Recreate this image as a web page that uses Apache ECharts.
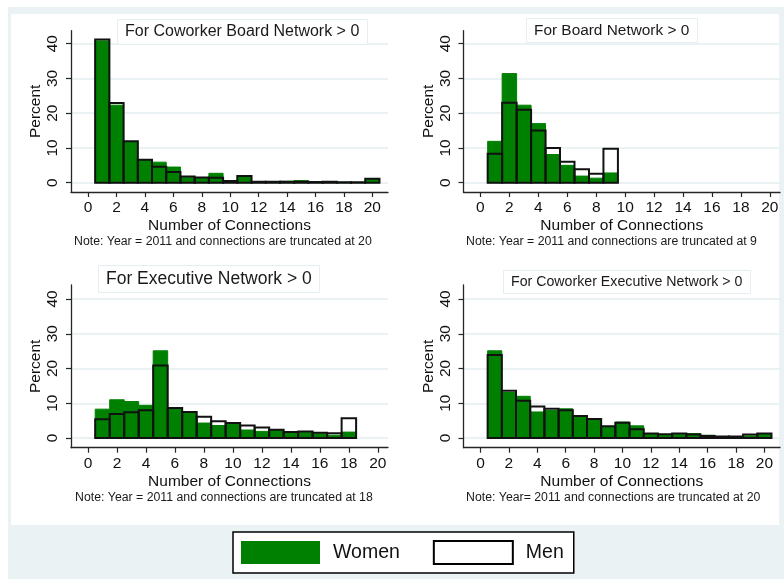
<!DOCTYPE html>
<html>
<head>
<meta charset="utf-8">
<script src="https://cdn.jsdelivr.net/npm/echarts@6/dist/echarts.min.js"></script>
<style>
  html, body { margin: 0; padding: 0; background: #ffffff; }
  #outer { position: absolute; left: 8px; top: 7px; width: 776px; height: 572px; background: #eaf2f3; }
  #inner { position: absolute; left: 11px; top: 14px; width: 768px; height: 511px; background: #ffffff; }
  #chart { position: absolute; left: 0; top: 0; width: 784px; height: 579px; }
</style>
</head>
<body>
<div id="outer"></div>
<div id="inner"></div>
<div id="chart"></div>
<script>
// Number of connections (histogram bins, width 1, centred on integers)
const bins = [1, 2, 3, 4, 5, 6, 7, 8, 9, 10, 11, 12, 13, 14, 15, 16, 17, 18, 19, 20];

// Percent of directors in each bin, 2011
const coworkerBoardWomen = [40.8, 22.3, 11.7, 6.5, 5.9, 4.5, 1.6, 1.5, 2.7, 0.5, 1.7, 0.3, 0.3, 0.4, 0.6, 0.2, 0.2, 0.1, 0.1, 1.0];
const coworkerBoardMen   = [41.2, 22.9, 11.9, 6.6, 4.6, 3.1, 1.8, 1.5, 1.4, 0.5, 1.9, 0.3, 0.3, 0.3, 0.3, 0.2, 0.3, 0.1, 0.1, 1.1];

const boardWomen = [11.9, 31.4, 22.3, 17.0, 8.1, 5.0, 1.9, 1.3, 2.8];
const boardMen   = [8.3, 23.0, 21.0, 15.0, 10.0, 6.0, 3.9, 2.6, 9.8];

const executiveWomen = [8.3, 11.0, 10.5, 9.4, 25.1, 8.4, 7.2, 4.3, 3.6, 4.0, 2.3, 1.9, 2.3, 1.6, 1.6, 1.2, 0.8, 1.7];
const executiveMen   = [5.4, 6.9, 7.4, 8.0, 20.9, 8.6, 7.5, 6.1, 4.8, 4.3, 3.6, 3.0, 2.4, 1.7, 1.9, 1.5, 1.4, 5.7];

const coworkerExecWomen = [25.1, 13.1, 12.0, 7.5, 7.9, 8.4, 6.1, 5.3, 3.2, 4.6, 3.5, 1.0, 1.0, 1.1, 1.3, 0.8, 0.4, 0.4, 0.6, 1.0];
const coworkerExecMen   = [23.9, 13.6, 10.7, 9.1, 8.4, 8.0, 6.3, 5.5, 3.4, 4.4, 2.5, 1.3, 1.1, 1.3, 1.0, 0.6, 0.4, 0.4, 1.0, 1.3];

// Axis tick labels
const xTicks = [0, 2, 4, 6, 8, 10, 12, 14, 16, 18, 20];
const yTicks = [0, 10, 20, 30, 40];

// Panel titles and notes
const panelTitles = [
  'For Coworker Board Network > 0',
  'For Board Network > 0',
  'For Executive Network > 0',
  'For Coworker Executive Network > 0'
];
const panelNotes = [
  'Note: Year = 2011 and connections are truncated at 20',
  'Note: Year = 2011 and connections are truncated at 9',
  'Note: Year = 2011 and connections are truncated at 18',
  'Note: Year= 2011 and connections are truncated at 20'
];
const panelData = [
  [coworkerBoardWomen, coworkerBoardMen],
  [boardWomen, boardMen],
  [executiveWomen, executiveMen],
  [coworkerExecWomen, coworkerExecMen]
];

const FONT = "'Liberation Sans', Arial, Helvetica, sans-serif";
const GREEN = '#008000';
const AXIS = '#262626';

// Layout of the four plot regions
const grids = [
  { left: 71,    top: 30.7, width: 317,   height: 161.3 },
  { left: 463.5, top: 30.7, width: 316.5, height: 161.3 },
  { left: 71,    top: 285,  width: 317,   height: 162.7 },
  { left: 463.5, top: 285,  width: 316.5, height: 162.7 }
];
const xRange = [[-1.2, 21.1], [-1.17, 20.7], [-1.17, 20.7], [-1.2, 21.1]];
const yRange = [[-2.68, 43.74], [-2.68, 43.74], [-2.79, 44.03], [-2.79, 44.03]];

const titleLayout = [
  { left: 117, top: 19,  size: 16 },
  { left: 526, top: 18,  size: 15.4 },
  { left: 98,  top: 265, size: 17.5 },
  { left: 503, top: 270, size: 14.2 }
];
const noteLayout = [
  { left: 74,  top: 236 },
  { left: 466, top: 236 },
  { left: 75,  top: 492 },
  { left: 466, top: 492 }
];

// One histogram bar spanning [x-0.5, x+0.5]
function binRect(params, api) {
  const x = api.value(0);
  const y = api.value(1);
  const p0 = api.coord([x - 0.5, y]);
  const p1 = api.coord([x + 0.5, 0]);
  return {
    type: 'rect',
    shape: { x: p0[0], y: p0[1], width: p1[0] - p0[0], height: p1[1] - p0[1] },
    style: api.style()
  };
}

const xAxes = [], yAxes = [], series = [], titles = [];
grids.forEach((g, i) => {
  xAxes.push({
    gridIndex: i, type: 'value', min: xRange[i][0], max: xRange[i][1],
    axisLine: { show: true, onZero: false, lineStyle: { color: AXIS, width: 1.3 } },
    axisTick: { show: true, length: 5, customValues: xTicks, lineStyle: { color: AXIS, width: 1.2 } },
    axisLabel: { customValues: xTicks, fontSize: 15.5, color: '#111', margin: 8, fontFamily: FONT },
    splitLine: { show: false },
    name: 'Number of Connections', nameLocation: 'middle', nameGap: 26,
    nameTextStyle: { fontSize: 15.5, color: '#111', fontFamily: FONT }
  });
  yAxes.push({
    gridIndex: i, type: 'value', min: yRange[i][0], max: yRange[i][1],
    axisLine: { show: true, onZero: false, lineStyle: { color: AXIS, width: 1.3 } },
    axisTick: { show: true, length: 5, customValues: yTicks, lineStyle: { color: AXIS, width: 1.2 } },
    axisLabel: { customValues: yTicks, rotate: 90, fontSize: 15.5, color: '#111', margin: 10, fontFamily: FONT },
    splitLine: { show: true, lineStyle: { color: '#e5eef1', width: 1.5 } },
    name: 'Percent', nameLocation: 'middle', nameGap: 27, nameRotate: 90,
    nameTextStyle: { fontSize: 15.5, color: '#111', fontFamily: FONT }
  });
  const [women, men] = panelData[i];
  series.push({
    name: 'Women', type: 'custom', xAxisIndex: i, yAxisIndex: i, z: 2,
    renderItem: binRect, clip: true,
    itemStyle: { color: GREEN, borderColor: GREEN, borderWidth: 1 },
    data: women.map((v, k) => [bins[k], v])
  });
  series.push({
    name: 'Men', type: 'custom', xAxisIndex: i, yAxisIndex: i, z: 3,
    renderItem: binRect, clip: true,
    itemStyle: { color: 'rgba(0,0,0,0)', borderColor: '#111', borderWidth: 2 },
    data: men.map((v, k) => [bins[k], v])
  });
  titles.push({
    text: panelTitles[i], left: titleLayout[i].left, top: titleLayout[i].top,
    padding: [5, 8], backgroundColor: '#ffffff', borderColor: '#e5eef1', borderWidth: 1,
    textStyle: { fontSize: titleLayout[i].size, fontWeight: 'normal', color: '#1a1a1a', fontFamily: FONT }
  });
  titles.push({
    text: panelNotes[i], left: noteLayout[i].left, top: noteLayout[i].top, padding: 0,
    textStyle: { fontSize: 12.3, fontWeight: 'normal', color: '#1a1a1a', fontFamily: FONT }
  });
});

const chart = echarts.init(document.getElementById('chart'), null, { renderer: 'canvas' });
chart.setOption({
  backgroundColor: 'transparent',
  animation: false,
  textStyle: { fontFamily: FONT },
  title: titles,
  grid: grids.map(g => Object.assign({ containLabel: false }, g)),
  xAxis: xAxes,
  yAxis: yAxes,
  series: series,
  legend: {
    left: 233, top: 532, orient: 'horizontal',
    padding: [8, 10, 8, 8], itemGap: 33, itemWidth: 79, itemHeight: 23,
    backgroundColor: '#ffffff', borderColor: '#000000', borderWidth: 1.5, borderRadius: 0,
    selectedMode: false,
    textStyle: { fontSize: 19.5, color: '#111', fontFamily: FONT, padding: [0, 0, 0, 8] },
    data: [
      { name: 'Women', icon: 'rect', itemStyle: { color: GREEN, borderWidth: 0 } },
      { name: 'Men', icon: 'rect', itemStyle: { color: '#ffffff', borderColor: '#000000', borderWidth: 2 } }
    ]
  }
});
</script>
</body>
</html>
